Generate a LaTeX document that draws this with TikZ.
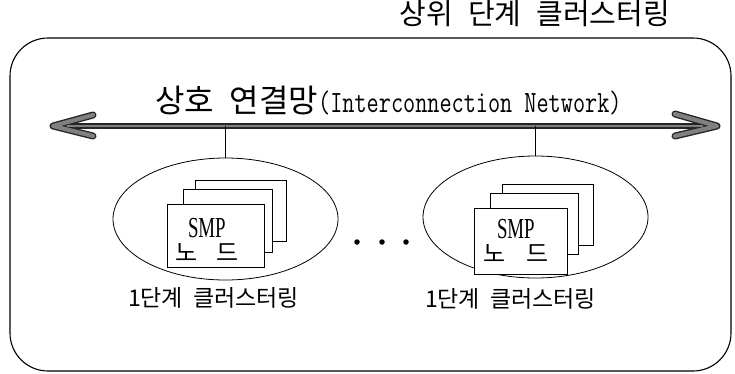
\documentclass[tikz,border=0pt]{standalone}
\usepackage{fontspec}
\newfontfamily\kr{Noto Sans CJK KR}
\newfontfamily\smpf[FakeStretch=0.65]{Liberation Serif}
\newfontfamily\monof[FakeStretch=0.76]{Latin Modern Mono}
\usetikzlibrary{shapes.geometric,calc}
\begin{document}
\begin{tikzpicture}[x=1pt,y=-1pt,
  txt/.style={inner sep=0pt,outer sep=0pt},
  page/.style={draw,fill=white,line width=0.8pt,anchor=north west,inner sep=0pt},
  clus/.style={draw,ellipse,line width=0.8pt,inner sep=0pt,minimum width=225pt,minimum height=122pt},
  dotnode/.style={circle,fill=black,inner sep=0pt,minimum size=5.5pt},
  arrout/.style={line width=7pt,black!85,line join=round,line cap=round},
  arrin/.style={line width=4.2pt,black!50,line join=round,line cap=round},
  shaftout/.style={line width=5.5pt,black!85},
  shaftin/.style={line width=2.8pt,black!50},
  link/.style={line width=0.8pt}]
\useasboundingbox (0,0) rectangle (735,373);
% outer box
\node[draw,line width=1.1pt,rounded corners=38pt,minimum width=721pt,minimum height=333pt,inner sep=0pt] (outer) at (370.5,204.5) {};
\node[txt,anchor=base east] (title) at (670,24) {\kr\fontsize{29}{32}\selectfont 상위\hspace{15pt}단계\hspace{15pt}클러스터링};
% interconnection text
\node[txt,anchor=base west] (net) at (155,112) {\kr\fontsize{32}{34}\selectfont 상호\hspace{16pt}연결망{\monof\fontsize{31}{33}\selectfont(Interconnection Network)}};
% arrow
\coordinate (AL) at (53,126);
\coordinate (AR) at (717,126);
\draw[shaftout] ($(AL)+(10,0)$) -- ($(AR)+(-10,0)$);
\draw[shaftin] ($(AL)+(10,0)$) -- ($(AR)+(-10,0)$);
\draw[arrout] ($(AL)+(40,-11)$) -- (AL) -- ($(AL)+(40,10)$);
\draw[arrin] ($(AL)+(40,-11)$) -- (AL) -- ($(AL)+(40,10)$);
\draw[arrout] ($(AR)+(-42,-12)$) -- (AR) -- ($(AR)+(-42,10)$);
\draw[arrin] ($(AR)+(-42,-12)$) -- (AR) -- ($(AR)+(-42,10)$);
\draw[shaftin] ($(AL)+(14,0)$) -- ($(AR)+(-14,0)$);
% clusters
\node[clus] (LE) at (225.5,219) {};
\node[clus] (RE) at (535.5,217) {};
\draw[link] (LE.north) -- (LE.north |- AL);
\draw[link] (RE.north) -- (RE.north |- AR);
% left pages
\node[page,minimum width=91pt,minimum height=61pt] (L3) at (195,180) {};
\node[page,minimum width=89pt,minimum height=63pt] (L2) at (183,189) {};
\node[page,minimum width=97pt,minimum height=63pt] (L1) at (167,204) {};
\node[txt,anchor=base west] (LS) at (188,237) {\smpf\fontsize{29}{30}\selectfont SMP};
\node[txt,anchor=base west] (LN) at (175,261) {\kr\fontsize{24}{26}\selectfont 노\hspace{19pt}드};
% right pages
\node[page,minimum width=91pt,minimum height=61pt] (R3) at (502,184) {};
\node[page,minimum width=88pt,minimum height=61pt] (R2) at (490,193) {};
\node[page,minimum width=93pt,minimum height=66pt] (R1) at (474,208) {};
\node[txt,anchor=base west] (RS) at (497,238) {\smpf\fontsize{29}{30}\selectfont SMP};
\node[txt,anchor=base west] (RN) at (483,262) {\kr\fontsize{24}{26}\selectfont 노\hspace{21pt}드};
% dots
\node[dotnode] (d1) at (357,242) {};
\node[dotnode] (d2) at (382,242) {};
\node[dotnode] (d3) at (406,242) {};
% labels
\node[txt,anchor=base west] (LL) at (128,306) {\kr\fontsize{23}{26}\selectfont 1단계\hspace{10pt}클러스터링};
\node[txt,anchor=base west] (RL) at (425,307) {\kr\fontsize{23}{26}\selectfont 1단계\hspace{10pt}클러스터링};
\end{tikzpicture}
\end{document}
